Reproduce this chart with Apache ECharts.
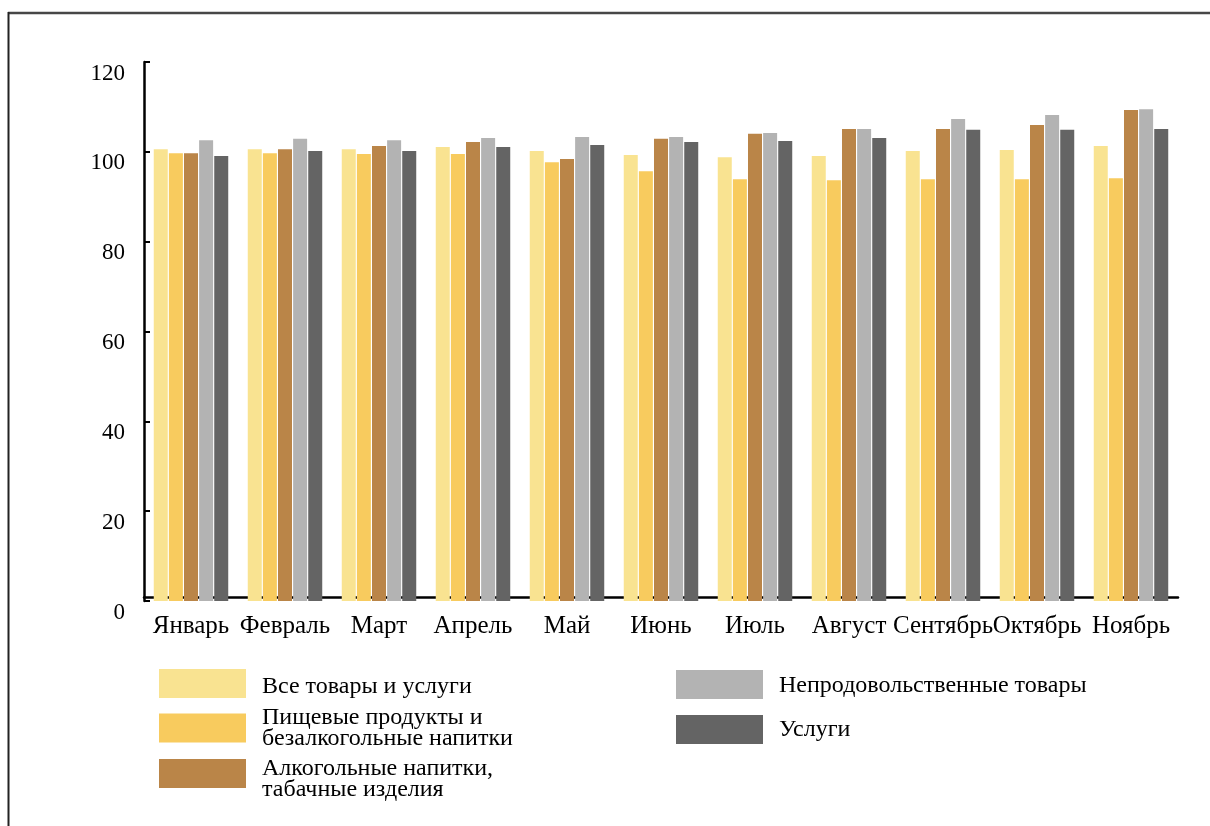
<!DOCTYPE html>
<html>
<head>
<meta charset="utf-8">
<script src="https://cdn.jsdelivr.net/npm/echarts@6/dist/echarts.min.js"></script>
<style>html,body{margin:0;padding:0;background:#fff;}#chart{width:1210px;height:826px;}</style>
</head>
<body>
<div id="chart"></div>
<script>
const months = ['Январь','Февраль','Март','Апрель','Май','Июнь','Июль','Август','Сентябрь','Октябрь','Ноябрь'];
const seriesNames = ['Все товары и услуги','Пищевые продукты и\nбезалкогольные напитки','Алкогольные напитки,\nтабачные изделия','Непродовольственные товары','Услуги'];
const allGoods   = [100.6,100.6,100.6,101.1,100.2, 99.3, 98.8, 99.1,100.2,100.4,101.3];
const food       = [ 99.7, 99.7, 99.5, 99.5, 97.7, 95.7, 93.9, 93.7, 93.9, 93.9, 94.1];
const alcohol    = [ 99.7,100.6,101.3,102.2, 98.4,102.9,104.0,105.1,105.1,106.0,109.3];
const nonFood    = [102.6,102.9,102.6,103.1,103.3,103.3,104.2,105.1,107.3,108.2,109.5];
const services   = [ 99.1,100.2,100.2,101.1,101.5,102.2,102.4,103.1,104.9,104.9,105.1];
const yTicks = [0,20,40,60,80,100,120];
const colors = ['#F9E391','#F8CB5E','#BA8548','#B3B3B3','#646464'];
const valueSets = [allGoods, food, alcohol, nonFood, services];

const FONT = '"Liberation Serif", "DejaVu Serif", serif';
const chart = echarts.init(document.getElementById('chart'));

// spacer: height of an empty first line pushing the label down a little
const legendPos = [
  {left:159, top:669, spacer:6},
  {left:159, top:705.5, spacer:0},
  {left:159, top:746.5, spacer:12},
  {left:676, top:670, spacer:2},
  {left:676, top:715, spacer:0}
];

const legends = seriesNames.map((n,i)=>({
  data:[n],
  orient:'vertical',
  left:legendPos[i].left,
  top:legendPos[i].top,
  padding:0,
  itemWidth:87,
  itemHeight:29,
  icon:'rect',
  selectedMode:false,
  formatter:function(name){
    const lines = name.split('\n').map(s=>'{a|'+s+'}');
    if (legendPos[i].spacer) lines.unshift('{s| }');
    return lines.join('\n');
  },
  textStyle:{
    fontFamily:FONT,fontSize:24,lineHeight:21,color:'#000',padding:[0,0,0,11],
    rich:{
      a:{fontFamily:FONT,fontSize:24,lineHeight:21,color:'#000'},
      s:{fontSize:4,lineHeight:legendPos[i].spacer || 1}
    }
  }
}));

chart.setOption({
  backgroundColor:'#fff',
  animation:false,
  color:colors,
  textStyle:{fontFamily:FONT},
  grid:{left:144, right:32, top:62, bottom:225, containLabel:false},
  legend:legends,
  xAxis:{
    type:'category',
    data:months,
    offset:-4,
    axisLine:{lineStyle:{color:'#000',width:2.5}},
    axisTick:{inside:true,length:6,lineStyle:{color:'#000',width:2}},
    axisLabel:{fontFamily:FONT,fontSize:25,color:'#000',margin:17,interval:0}
  },
  yAxis:{
    type:'value',
    min:yTicks[0],
    max:yTicks[yTicks.length-1],
    interval:20,
    axisLine:{show:true,lineStyle:{color:'#000',width:2.5}},
    axisTick:{show:true,inside:true,length:6,lineStyle:{color:'#000',width:2}},
    splitLine:{show:false},
    axisLabel:{fontFamily:FONT,fontSize:23,color:'#000',margin:19,verticalAlign:'top'}
  },
  series:valueSets.map((vals,i)=>({
    name:seriesNames[i],
    type:'bar',
    data:vals,
    barWidth:14,
    barGap:'8%',
    itemStyle:{color:colors[i]}
  })),
  graphic:[
    {type:'line',shape:{x1:8,y1:13,x2:1210,y2:13},style:{stroke:'#474747',lineWidth:2.5},silent:true},
    {type:'line',shape:{x1:8.5,y1:12,x2:8.5,y2:826},style:{stroke:'#222',lineWidth:2},silent:true}
  ]
});
</script>
</body>
</html>
